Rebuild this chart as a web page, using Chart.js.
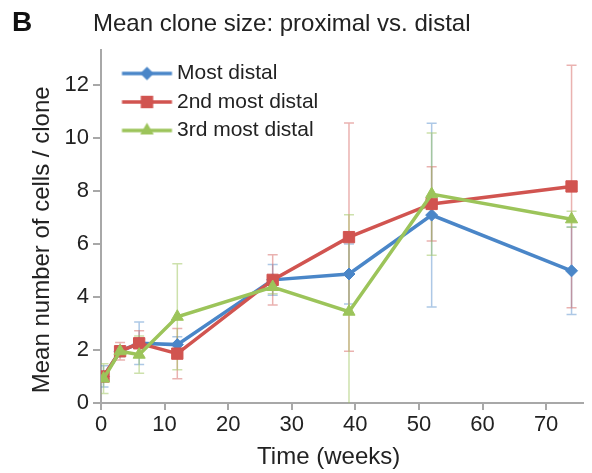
<!DOCTYPE html>
<html><head><meta charset="utf-8">
<script src="https://cdn.jsdelivr.net/npm/chart.js@4.4.1/dist/chart.umd.min.js"></script>
<style>
html,body{margin:0;padding:0;background:#fff;}
#wrap{position:relative;width:592px;height:473px;overflow:hidden;}
canvas{position:absolute;left:0;top:0;}
#panel{position:absolute;left:12px;top:8px;font:bold 28px "Liberation Sans",Arial,sans-serif;line-height:28px;color:#111;}
#title{position:absolute;left:93px;top:10.7px;font:24px "Liberation Sans",Arial,sans-serif;line-height:24px;color:#222;white-space:nowrap;}
</style></head><body>
<div id="wrap">
<canvas id="c" width="592" height="473"></canvas>
<div id="panel">B</div>
<div id="title">Mean clone size: proximal vs. distal</div>
</div>
<script>
// ---- data ----
const weeks = [0.4, 3, 6, 12, 27, 39, 52, 74];
const seriesNames = ['Most distal', '2nd most distal', '3rd most distal'];
const mostDistal = [1.0, 1.95, 2.25, 2.2, 4.64, 4.86, 7.08, 4.98];
const mostDistalErr = [0.4, 0.2, 0.8, 0.3, 0.58, 1.13, 3.46, 1.65];
const secondDistal = [1.0, 1.95, 2.25, 1.86, 4.64, 6.25, 7.5, 8.16];
const secondDistalErr = [0.15, 0.33, 0.47, 0.95, 0.95, 4.3, 1.4, 4.57];
const thirdDistal = [0.92, 1.95, 1.82, 3.25, 4.37, 3.44, 7.87, 6.92];
const thirdDistalErr = [0.56, 0.2, 0.7, 2.0, 0.25, 3.65, 2.3, 0.3];
const xTicks = [0, 10, 20, 30, 40, 50, 60, 70];
const yTicks = [0, 2, 4, 6, 8, 10, 12];

const FONT = '"Liberation Sans", Arial, sans-serif';
const colors = ['#4a86c8', '#d15450', '#9cc45a'];
const errColors = ['rgba(74,134,200,0.45)', 'rgba(209,84,80,0.45)', 'rgba(156,196,90,0.5)'];
const styles = ['rectRot', 'rect', 'triangle'];
const radii = [6, 8, 7];

function pts(vals) { return weeks.map((w, i) => ({x: w, y: vals[i]})); }

function drawMarker(g, style, x, y, r) {
  g.beginPath();
  if (style === 'rectRot') {
    g.moveTo(x, y - r); g.lineTo(x + r, y); g.lineTo(x, y + r); g.lineTo(x - r, y); g.closePath();
  } else if (style === 'rect') {
    const s = r * Math.SQRT1_2;
    g.rect(x - s, y - s, 2 * s, 2 * s);
  } else {
    const a = -Math.PI / 2;
    g.moveTo(x + Math.cos(a) * r, y + Math.sin(a) * r);
    g.lineTo(x + Math.cos(a + 2 * Math.PI / 3) * r, y + Math.sin(a + 2 * Math.PI / 3) * r);
    g.lineTo(x + Math.cos(a + 4 * Math.PI / 3) * r, y + Math.sin(a + 4 * Math.PI / 3) * r);
    g.closePath();
  }
  g.fill();
}

function legendIcon(i) {
  const c = document.createElement('canvas');
  c.width = 90; c.height = 20;
  const g = c.getContext('2d');
  g.strokeStyle = colors[i]; g.fillStyle = colors[i]; g.lineWidth = 3.5;
  g.beginPath(); g.moveTo(29.5, 10); g.lineTo(79.5, 10); g.stroke();
  drawMarker(g, styles[i], 54.5, 10, radii[i] + 0.8);
  return c;
}
const icons = [0, 1, 2].map(legendIcon);

const allVals = [mostDistal, secondDistal, thirdDistal];
const allErr = [mostDistalErr, secondDistalErr, thirdDistalErr];

const datasets = allVals.map((v, i) => ({
  label: seriesNames[i],
  data: pts(v),
  errors: allErr[i],
  errorColor: errColors[i],
  borderColor: colors[i],
  backgroundColor: colors[i],
  borderWidth: 3.5,
  pointStyle: styles[i],
  pointRadius: radii[i],
  pointBorderWidth: 1,
  pointBackgroundColor: colors[i],
  pointBorderColor: colors[i],
  tension: 0,
  order: 3 - i
}));

const errorBars = {
  id: 'errorBars',
  beforeDatasetsDraw(chart) {
    const {ctx, chartArea, scales: {x, y}} = chart;
    ctx.save();
    ctx.beginPath();
    ctx.rect(chartArea.left, chartArea.top, chartArea.right - chartArea.left, chartArea.bottom - chartArea.top);
    ctx.clip();
    chart.data.datasets.forEach((ds, i) => {
      ctx.strokeStyle = ds.errorColor;
      ctx.lineWidth = 1.5;
      ds.data.forEach((p, j) => {
        const e = ds.errors[j];
        const px = x.getPixelForValue(p.x);
        const t = y.getPixelForValue(p.y + e);
        const b = y.getPixelForValue(p.y - e);
        ctx.beginPath();
        ctx.moveTo(px, t); ctx.lineTo(px, b);
        ctx.moveTo(px - 5, t); ctx.lineTo(px + 5, t);
        ctx.moveTo(px - 5, b); ctx.lineTo(px + 5, b);
        ctx.stroke();
      });
    });
    ctx.restore();
  }
};

const axisGray = '#a8a8a8';

new Chart(document.getElementById('c'), {
  type: 'line',
  data: { datasets },
  plugins: [errorBars],
  options: {
    responsive: false,
    animation: false,
    devicePixelRatio: 1,
    layout: { padding: { left: 0, right: 2, top: 50, bottom: 0 } },
    plugins: {
      tooltip: { enabled: false },
      legend: {
        position: 'chartArea',
        align: 'start',
        title: { display: true, text: ' ', padding: { top: 54.3, bottom: 0 }, font: { size: 1 } },
        labels: {
          usePointStyle: true,
          pointStyleWidth: 58,
          padding: 7.5,
          color: '#222',
          font: { family: FONT, size: 21 },
          sort: (a, b) => a.datasetIndex - b.datasetIndex,
          generateLabels: (chart) => {
            const items = Chart.defaults.plugins.legend.labels.generateLabels(chart);
            items.forEach(it => { it.pointStyle = icons[it.datasetIndex]; });
            return items;
          }
        }
      }
    },
    scales: {
      x: {
        type: 'linear',
        min: 0,
        max: 75.8,
        afterBuildTicks: (axis) => { axis.ticks = xTicks.map(v => ({value: v})); },
        afterFit: (scale) => { scale.height = 70; },
        grid: { drawOnChartArea: false, drawTicks: true, tickLength: 7, color: axisGray, lineWidth: 2 },
        border: { display: true, color: axisGray, width: 2 },
        ticks: { color: '#222', font: { family: FONT, size: 22 }, padding: 2, maxRotation: 0 },
        title: { display: true, text: 'Time (weeks)    ', color: '#222', font: { family: FONT, size: 24 }, padding: { top: 0, bottom: 1.6 } }
      },
      y: {
        type: 'linear',
        min: 0,
        max: 13.3,
        afterBuildTicks: (axis) => { axis.ticks = yTicks.map(v => ({value: v})); },
        afterFit: (scale) => { scale.width = 101; },
        grid: { drawOnChartArea: false, drawTicks: true, tickLength: 8, color: axisGray, lineWidth: 2 },
        border: { display: true, color: axisGray, width: 2 },
        ticks: { color: '#222', font: { family: FONT, size: 22 }, padding: 4 },
        title: { display: true, text: 'Mean number of cells / clone    ', color: '#222', font: { family: FONT, size: 24 }, padding: { top: 27.6, bottom: 0 } }
      }
    }
  }
});
</script>
</body></html>
